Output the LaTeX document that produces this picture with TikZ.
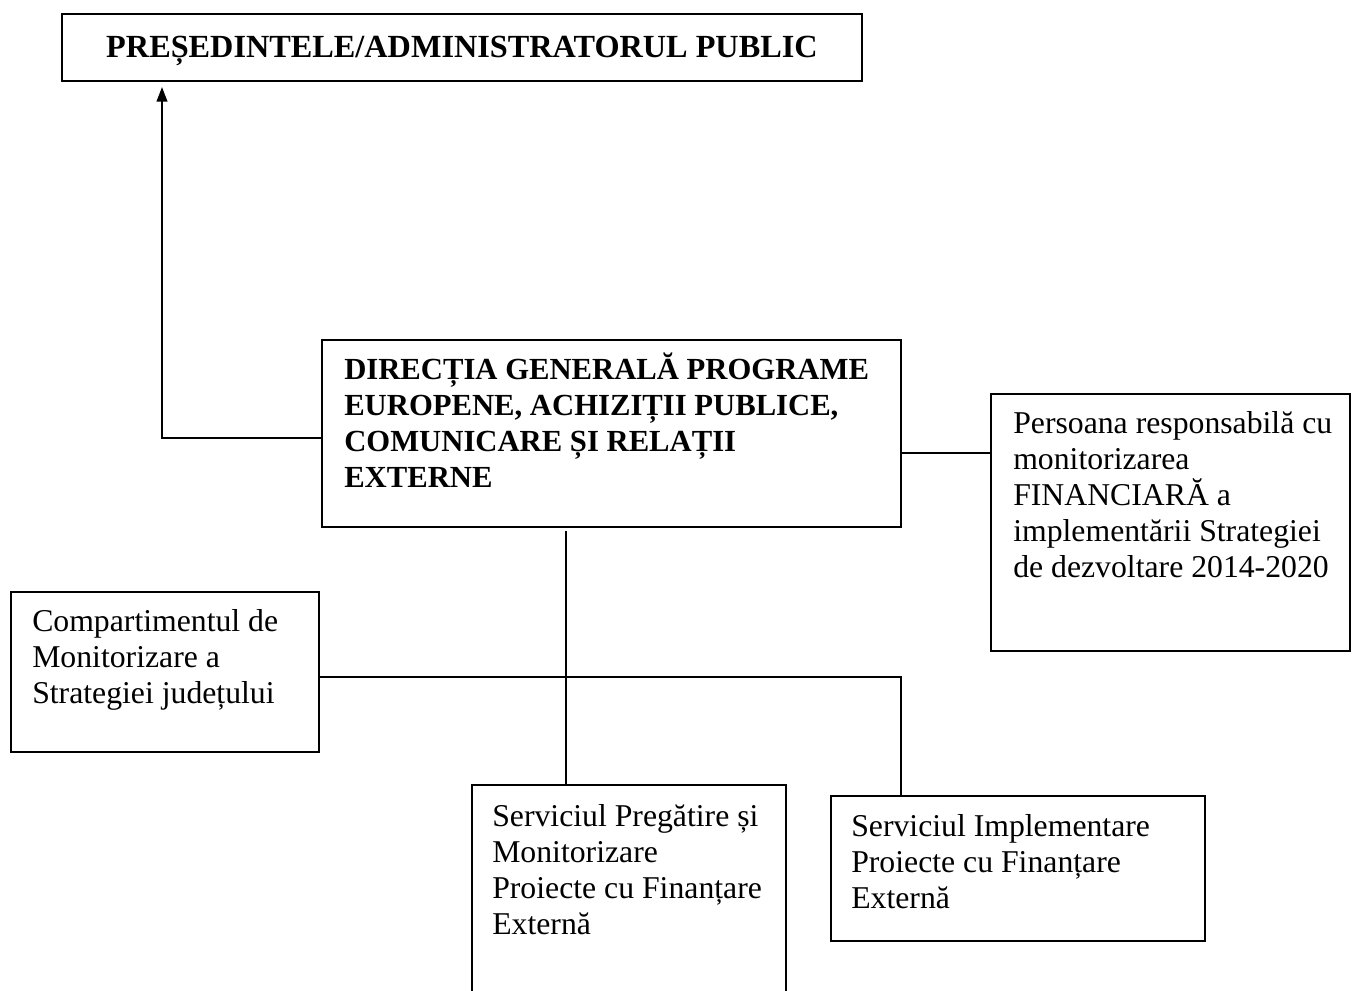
\documentclass[tikz,border=0pt]{standalone}
\usepackage{fontspec}
\setmainfont{LiberationSerif}[Extension=.ttf,UprightFont=*-Regular,BoldFont=*-Bold,ItalicFont=*-Italic,BoldItalicFont=*-BoldItalic]
\usetikzlibrary{fit,arrows.meta}
\begin{document}
\begin{tikzpicture}[x=0.75pt,y=-0.75pt,
  box/.style={draw=black,line width=1.1pt,inner sep=0pt,outer sep=0pt},
  txt/.style={anchor=base west,align=left,inner sep=0pt,font=\fontsize{23.8pt}{27pt}\selectfont},
  conn/.style={line width=1.5pt,black},
  arr/.style={conn,-{Triangle[length=11pt,width=8pt]},shorten >=4.5pt}]
\useasboundingbox (0,0) rectangle (1352,990);
\clip (0,0) rectangle (1352,990);
% boxes
\node[box,fit={(62,14) (862,81)}] (pres) {};
\node[box,fit={(322,340) (901,527)}] (dir) {};
\node[box,fit={(991,394) (1350,651)}] (pers) {};
\node[box,fit={(11,592) (319,752)}] (comp) {};
\node[box,fit={(472,785) (786,1010)}] (sp) {};
\node[box,fit={(831,796) (1205,941)}] (si) {};
% texts (anchor = baseline of the last line)
\node[txt,anchor=base,font=\fontsize{24.2pt}{27pt}\selectfont\bfseries] (presT) at (462,57) {PREȘEDINTELE/ADMINISTRATORUL PUBLIC};
\node[txt,font=\fontsize{23pt}{27pt}\selectfont\bfseries] (dirT) at (344,487) {DIRECȚIA GENERALĂ PROGRAME\\EUROPENE, ACHIZIȚII PUBLICE,\\COMUNICARE ȘI RELAȚII\\EXTERNE};
\node[txt] (persT) at (1013,577) {Persoana responsabilă cu\\monitorizarea\\FINANCIARĂ a\\implementării Strategiei\\de dezvoltare 2014-2020};
\node[txt] (compT) at (32,703) {Compartimentul de\\Monitorizare a\\Strategiei județului};
\node[txt] (spT) at (492,934) {Serviciul Pregătire și\\Monitorizare\\Proiecte cu Finanțare\\Externă};
\node[txt] (siT) at (851,908) {Serviciul Implementare\\Proiecte cu Finanțare\\Externă};
% junction coordinates
\coordinate (turn) at (162,438);
\coordinate (rj) at (991,453);
\coordinate (vx) at (566,677);
\coordinate (hx) at (901,677);
% connectors
\draw[arr] (dir.west |- turn) -- (turn) -- (turn |- pres.south);
\draw[conn] (dir.east |- rj) -- (rj);
\draw[conn] ([yshift=-3pt]dir.south -| vx) -- (vx |- sp.north);
\draw[conn] (comp.east |- vx) -- (hx) -- (hx |- si.north);
\end{tikzpicture}
\end{document}
